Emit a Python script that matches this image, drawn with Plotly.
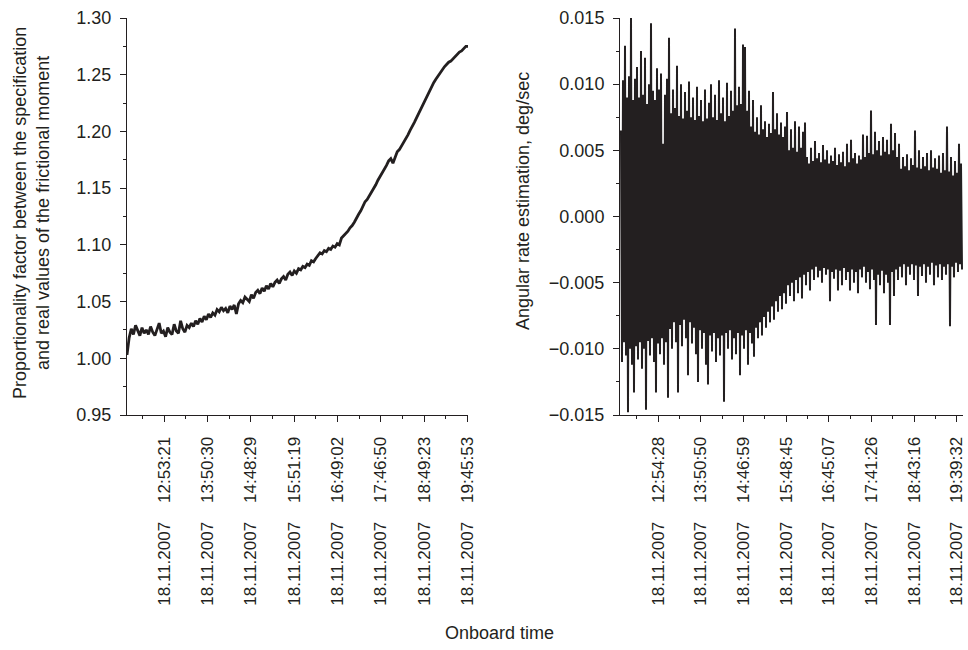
import plotly.graph_objects as go

# ---------------- data ----------------
# Left panel: proportionality factor (evenly spaced samples over the session)
factor = [
    1.003, 1.018, 1.026, 1.021, 1.029, 1.024, 1.020, 1.027, 1.022, 1.025,
    1.021, 1.028, 1.023, 1.020, 1.026, 1.031, 1.022, 1.024, 1.019, 1.027,
    1.023, 1.021, 1.030, 1.024, 1.022, 1.033, 1.026, 1.023, 1.029, 1.027,
    1.031, 1.028, 1.033, 1.030, 1.035, 1.032, 1.037, 1.034, 1.039, 1.036,
    1.040, 1.038, 1.043, 1.041, 1.045, 1.042, 1.044, 1.040, 1.046, 1.043,
    1.047, 1.039, 1.048, 1.051, 1.049, 1.054, 1.052, 1.050, 1.056, 1.053,
    1.058, 1.060, 1.057, 1.062, 1.059, 1.064, 1.061, 1.066, 1.063, 1.067,
    1.069, 1.066, 1.070, 1.072, 1.069, 1.074, 1.076, 1.073, 1.077, 1.075,
    1.079, 1.078, 1.081, 1.080, 1.083, 1.082, 1.086, 1.085, 1.088, 1.091,
    1.093, 1.092, 1.095, 1.094, 1.097, 1.096, 1.099, 1.098, 1.101, 1.100,
    1.106, 1.108, 1.110, 1.112, 1.115, 1.117, 1.120, 1.124, 1.127, 1.130,
    1.134, 1.138, 1.140, 1.143, 1.147, 1.150, 1.153, 1.157, 1.160, 1.163,
    1.166, 1.170, 1.174, 1.176, 1.172, 1.178, 1.182, 1.184, 1.187, 1.190,
    1.194, 1.197, 1.201, 1.204, 1.208, 1.212, 1.216, 1.220, 1.224, 1.228,
    1.232, 1.236, 1.240, 1.243, 1.246, 1.249, 1.251, 1.254, 1.257, 1.259,
    1.261, 1.262, 1.264, 1.266, 1.268, 1.270, 1.271, 1.273, 1.275, 1.275,
]

# Right panel: angular rate estimation, successive positive / negative excursions
rate_upper = [
    0.0065, 0.0103, 0.0129, 0.0090, 0.0106, 0.0150, 0.0088, 0.0104, 0.0113, 0.0090,
    0.0125, 0.0092, 0.0120, 0.0085, 0.0100, 0.0146, 0.0095, 0.0088, 0.0112, 0.0096,
    0.0108, 0.0055, 0.0092, 0.0104, 0.0135, 0.0078, 0.0096, 0.0082, 0.0114, 0.0076,
    0.0100, 0.0074, 0.0094, 0.0080, 0.0102, 0.0075, 0.0090, 0.0073, 0.0098, 0.0076,
    0.0088, 0.0072, 0.0096, 0.0074, 0.0086, 0.0100, 0.0075, 0.0092, 0.0073, 0.0103,
    0.0078, 0.0090, 0.0072, 0.0101, 0.0076, 0.0095, 0.0080, 0.0142, 0.0084, 0.0098,
    0.0085, 0.0130, 0.0128, 0.0080, 0.0095, 0.0068, 0.0088, 0.0064, 0.0075, 0.0062,
    0.0084, 0.0066, 0.0072, 0.0060, 0.0070, 0.0063, 0.0094, 0.0066, 0.0078, 0.0062,
    0.0071, 0.0060, 0.0068, 0.0079, 0.0050, 0.0066, 0.0052, 0.0072, 0.0049, 0.0068,
    0.0052, 0.0064, 0.0071, 0.0045, 0.0040, 0.0052, 0.0042, 0.0057, 0.0044, 0.0048,
    0.0041, 0.0054, 0.0043, 0.0050, 0.0040, 0.0046, 0.0042, 0.0052, 0.0039, 0.0047,
    0.0041, 0.0049, 0.0038, 0.0055, 0.0041, 0.0058, 0.0044, 0.0048, 0.0040, 0.0046,
    0.0043, 0.0062, 0.0045, 0.0061, 0.0048, 0.0080, 0.0047, 0.0064, 0.0050, 0.0057,
    0.0046, 0.0060, 0.0049, 0.0058, 0.0047, 0.0070, 0.0050, 0.0063, 0.0045, 0.0055,
    0.0036, 0.0045, 0.0038, 0.0047, 0.0035, 0.0044, 0.0039, 0.0065, 0.0037, 0.0050,
    0.0036, 0.0045, 0.0038, 0.0048, 0.0035, 0.0050, 0.0037, 0.0044, 0.0036, 0.0046,
    0.0033, 0.0048, 0.0035, 0.0068, 0.0034, 0.0045, 0.0031, 0.0042, 0.0033, 0.0055,
    0.0040,
]
rate_lower = [
    -0.0110, -0.0095, -0.0105, -0.0148, -0.0100, -0.0112, -0.0133, -0.0098, -0.0108, -0.0095,
    -0.0115, -0.0100, -0.0146, -0.0094, -0.0105, -0.0092, -0.0110, -0.0133, -0.0096, -0.0104,
    -0.0092, -0.0112, -0.0095, -0.0137, -0.0085, -0.0100, -0.0080, -0.0095, -0.0133, -0.0082,
    -0.0098, -0.0078, -0.0092, -0.0120, -0.0080, -0.0096, -0.0084, -0.0104, -0.0125, -0.0086,
    -0.0100, -0.0088, -0.0112, -0.0127, -0.0090, -0.0102, -0.0088, -0.0110, -0.0092, -0.0105,
    -0.0090, -0.0140, -0.0088, -0.0100, -0.0086, -0.0108, -0.0092, -0.0104, -0.0088, -0.0120,
    -0.0090, -0.0100, -0.0086, -0.0112, -0.0088, -0.0096, -0.0106, -0.0084, -0.0092, -0.0080,
    -0.0090, -0.0076, -0.0084, -0.0072, -0.0080, -0.0068, -0.0078, -0.0064, -0.0072, -0.0060,
    -0.0070, -0.0058, -0.0066, -0.0052, -0.0060, -0.0050, -0.0064, -0.0048, -0.0058, -0.0046,
    -0.0062, -0.0044, -0.0052, -0.0042, -0.0056, -0.0040, -0.0048, -0.0038, -0.0046, -0.0041,
    -0.0050, -0.0039, -0.0044, -0.0040, -0.0064, -0.0042, -0.0047, -0.0040, -0.0056, -0.0041,
    -0.0052, -0.0039, -0.0048, -0.0042, -0.0056, -0.0040, -0.0050, -0.0042, -0.0058, -0.0040,
    -0.0046, -0.0038, -0.0050, -0.0042, -0.0055, -0.0040, -0.0048, -0.0082, -0.0044, -0.0052,
    -0.0041, -0.0058, -0.0044, -0.0050, -0.0082, -0.0042, -0.0060, -0.0040, -0.0048, -0.0038,
    -0.0046, -0.0036, -0.0052, -0.0038, -0.0044, -0.0036, -0.0048, -0.0037, -0.0060, -0.0038,
    -0.0045, -0.0036, -0.0050, -0.0038, -0.0044, -0.0035, -0.0052, -0.0037, -0.0046, -0.0036,
    -0.0048, -0.0038, -0.0044, -0.0036, -0.0083, -0.0038, -0.0046, -0.0035, -0.0042, -0.0036,
    -0.0040,
]

left_ticktext = ["12:53:21", "13:50:30", "14:48:29", "15:51:19",
                 "16:49:02", "17:46:50", "18:49:23", "19:45:53"]
right_ticktext = ["12:54:28", "13:50:50", "14:46:59", "15:48:45",
                  "16:45:07", "17:41:26", "18:43:16", "19:39:32"]
date_label = "18.11.2007"

# ---------------- styling ----------------
INK = "#231f20"
FONT = "Liberation Sans, Arial, sans-serif"
W, H = 968, 650

def px(xp):
    return xp / W

def py(yp):
    return 1 - yp / H

# sample positions (sample index)
xl = list(range(len(factor)))
rate = []
for u, l in zip(rate_upper, rate_lower):
    rate.append(u)
    rate.append(l)
xr = list(range(len(rate)))

# tick placement in sample units
l_first, l_step = 17.4, 20.19
r_first, r_step = 37.3, 42.63
l_tickvals = [l_first + k * l_step for k in range(len(left_ticktext))]
r_tickvals = [r_first + k * r_step for k in range(len(right_ticktext))]
sp = "\u00a0" * 4
l_labels = [date_label + sp + t for t in left_ticktext]
r_labels = [date_label + sp + t for t in right_ticktext]

fig = go.Figure()
fig.add_trace(go.Scatter(x=xl, y=factor, mode="lines",
                         line=dict(color=INK, width=2.8), xaxis="x", yaxis="y",
                         showlegend=False, hoverinfo="skip"))
fig.add_trace(go.Scatter(x=xr, y=rate, mode="lines",
                         line=dict(color=INK, width=2.0), xaxis="x2", yaxis="y2",
                         showlegend=False, hoverinfo="skip"))

tickfont = dict(family=FONT, size=18, color=INK)
xtickfont = dict(family=FONT, size=17, color=INK)

common_x = dict(showgrid=False, zeroline=False, showline=True, linecolor=INK, linewidth=1,
                ticks="outside", ticklen=6, tickwidth=1, tickcolor=INK,
                tickangle=-90, tickfont=xtickfont, tickmode="array",
                ticklabelstandoff=8, automargin=False)
common_y = dict(showgrid=False, zeroline=False, showline=True, linecolor=INK, linewidth=1,
                ticks="outside", ticklen=6, tickwidth=1, tickcolor=INK,
                tickfont=tickfont, automargin=False, ticklabelstandoff=5)

fig.update_layout(
    width=W, height=H,
    margin=dict(l=0, r=0, t=0, b=0),
    paper_bgcolor="white", plot_bgcolor="white",
    xaxis=dict(common_x, domain=[px(127), px(468)], range=[0, 159],
               tickvals=l_tickvals, ticktext=l_labels, anchor="y",
               minor=dict(tick0=l_first - l_step / 2, dtick=l_step / 2, ticklen=3,
                          ticks="outside", tickcolor=INK, tickwidth=1)),
    yaxis=dict(common_y, domain=[py(415), py(18)], range=[0.95, 1.30],
               tick0=0.95, dtick=0.05, tickformat=".2f", anchor="x",
               minor=dict(tick0=0.95, dtick=0.025, ticklen=3, ticks="outside",
                          tickcolor=INK, tickwidth=1)),
    xaxis2=dict(common_x, domain=[px(620), px(963)], range=[-1, 342],
                tickvals=r_tickvals, ticktext=r_labels, anchor="y2",
                minor=dict(tick0=r_first - r_step / 2, dtick=r_step / 2, ticklen=3,
                           ticks="outside", tickcolor=INK, tickwidth=1)),
    yaxis2=dict(common_y, domain=[py(415), py(18)], range=[-0.015, 0.015],
                tick0=-0.015, dtick=0.005, tickformat=".3f", anchor="x2",
                minor=dict(tick0=-0.015, dtick=0.0025, ticklen=3, ticks="outside",
                           tickcolor=INK, tickwidth=1)),
    annotations=[
        dict(text="Proportionality factor between the specification<br>"
                  "and real values of the frictional moment",
             x=px(31), y=py(213), xref="paper", yref="paper", textangle=-90,
             showarrow=False, xanchor="center", yanchor="middle",
             font=dict(family=FONT, size=18, color=INK)),
        dict(text="Angular rate estimation, deg/sec",
             x=px(523), y=py(201), xref="paper", yref="paper", textangle=-90,
             showarrow=False, xanchor="center", yanchor="middle",
             font=dict(family=FONT, size=18, color=INK)),
        dict(text="Onboard time",
             x=px(500), y=py(633), xref="paper", yref="paper",
             showarrow=False, xanchor="center", yanchor="middle",
             font=dict(family=FONT, size=18, color=INK)),
    ],
)

fig.write_html("out.html")
